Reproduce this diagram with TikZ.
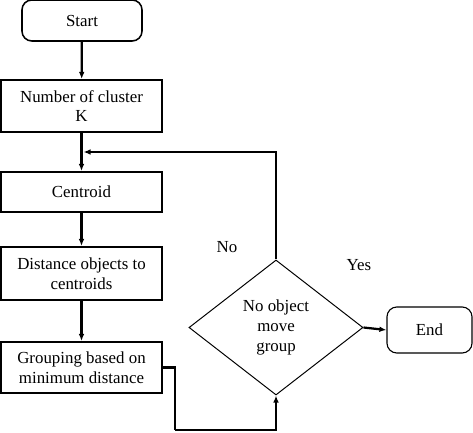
\documentclass[tikz,border=0pt]{standalone}
\usepackage{fontspec}
\setmainfont{Liberation Serif}
\usepackage{tikz}
\usetikzlibrary{arrows.meta,positioning,calc,shapes.geometric}
\tikzset{
  fcTerm/.style={draw=black, line width=1.1pt, rounded corners=7pt,
    minimum width=3cm, minimum height=1.025cm, align=center},
  fcProc/.style={draw=black, line width=1.4pt,
    minimum width=4.025cm, align=center, inner sep=2pt},
  fcDec/.style={draw=black, line width=0.7pt, diamond, aspect=1.29,
    minimum width=4.35cm, minimum height=3.375cm, inner sep=0pt, align=center},
  %% connectors
  fcflow/.style={-{Latex[length=5pt,width=4pt]}, line width=1.6pt},
  fcline/.style={line width=1.6pt},
  fclabel/.style={inner sep=0pt},
}

\begin{document}
\begin{tikzpicture}[x=0.025cm, y=-0.025cm, font=\fontsize{12}{14}\selectfont]
\useasboundingbox (0,0) rectangle (473,433);

\node[fcTerm]                            (nStart) at (82,20.5)   {Start};
\node[fcProc, minimum height=1.3cm]      (nNum)   at (81.5,106)  {Number of cluster\\K};
\node[fcProc, minimum height=1cm]        (nCen)   at (81.5,192)  {Centroid};
\node[fcProc, minimum height=1.325cm]    (nDist)  at (81.5,273.5){Distance objects to\\centroids};
\node[fcProc, minimum height=1.275cm]    (nGrp)   at (81.5,367.5){Grouping based on\\minimum distance};
\node[fcDec]                             (nDec)   at (276,327.5) {No object\\move\\group};
\node[fcTerm, minimum width=2.125cm, minimum height=1.15cm, line width=0.8pt]
                                         (nEnd)   at (429.5,330) {End};

\coordinate (cBack) at ($(nNum.south)!0.5!(nCen.north)+(2,0)$);
\coordinate (cLow)  at (175,430);

\draw[fcflow] (nStart) -- (nNum);
\draw[fcflow] (nNum) -- (nCen);
\draw[fcflow] (nCen) -- (nDist);
\draw[fcflow] (nDist) -- (nGrp);
\draw[fcline] (nGrp.east) -| (cLow);
\draw[fcflow] (cLow) -| (nDec.south);
\draw[fcflow] (nDec.north) |- (cBack);
\draw[fcflow] (nDec.east) -- (nEnd.west);

\node[fclabel] (lNo)  at (227,247) {No};
\node[fclabel] (lYes) at (359,265) {Yes};

\end{tikzpicture}
\end{document}
